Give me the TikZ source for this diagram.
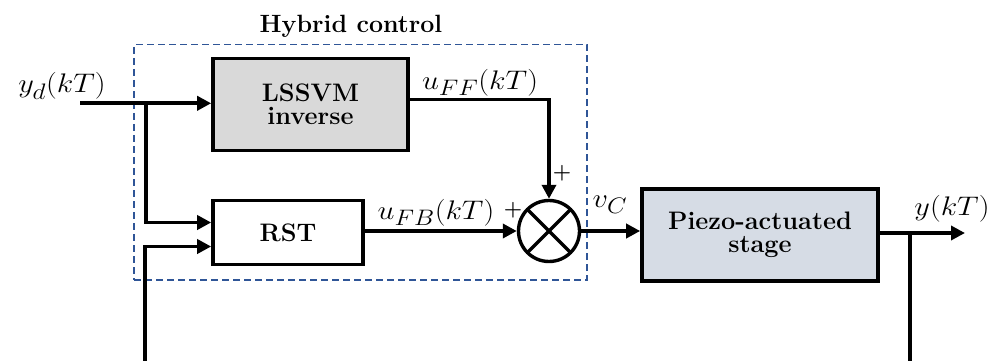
\documentclass[tikz,border=0pt]{standalone}
\usepackage{fontspec}
\usepackage{graphicx}
\usetikzlibrary{arrows.meta,calc}
\definecolor{dblue}{HTML}{2F5597}
\definecolor{lgray}{HTML}{D9D9D9}
\definecolor{lblue}{HTML}{D6DCE5}
\newcommand{\mlab}[1]{\scalebox{1.22}[1.08]{$#1$}}
\begin{document}
\begin{tikzpicture}[x=1pt,y=-1pt,
  blk/.style={draw, line width=3.6pt, align=center, font=\bfseries\fontsize{25.3}{23}\selectfont, inner sep=0pt},
  wire/.style={line width=3.6pt},
  arr/.style={wire,-{Triangle[length=14pt,width=14pt]}},
  lbl/.style={font=\fontsize{24.88}{30}\selectfont, inner sep=0pt},
  plus/.style={font=\bfseries\fontsize{21}{21}\selectfont, inner sep=0pt},
  dashbox/.style={draw=dblue, line width=1.8pt, dash pattern=on 7pt off 4pt, inner sep=0pt}]
\useasboundingbox (0,0) rectangle (1002,361);
% hybrid control frame
\node[dashbox, minimum width=453pt, minimum height=235.5pt] (hyb) at (360.5,162.25) {};
\node[font=\bfseries\fontsize{25}{23}\selectfont, anchor=base] (title) at (351,33) {Hybrid control};
% blocks
\node[blk, fill=lgray, minimum width=195pt, minimum height=92pt] (lssvm) at (310.5,104.5) {LSSVM\\inverse};
\node[blk, minimum width=150pt, minimum height=64pt] (rst) at (288,232.5) {RST};
\node[draw, circle, line width=3.4pt, minimum size=61pt, inner sep=0pt] (sum) at (549,231) {};
\draw[line width=3.4pt] (sum.center) +(45:30.5) -- +(225:30.5);
\draw[line width=3.4pt] (sum.center) +(135:30.5) -- +(315:30.5);
\node[blk, fill=lblue, minimum width=236pt, minimum height=92pt] (pz) at (760,235) {Piezo-actuated\\stage};
% coordinates
\coordinate (yd) at (80,103.3);
\coordinate (br1) at (146,103.3);
\coordinate (fb1) at (145,361);
\coordinate (yout) at (965,233);
\coordinate (br2) at (910,233);
\coordinate (fb2) at (910,361);
% wires
\draw[arr] (yd) -- (yd -| lssvm.west);
\draw[arr] (br1) |- ($(rst.west)+(0,-10)$);
\draw[arr] (fb1) |- ($(rst.west)+(0,14)$);
\draw[arr] ($(lssvm.east)+(0,-5)$) -| (sum.north);
\draw[arr] (rst.east |- sum.west) -- (sum.west);
\draw[arr] (sum.east) -- (sum.east -| pz.west);
\draw[arr] (pz.east |- yout) -- (yout);
\draw[wire] (br2) -- (fb2);
% labels
\node[lbl] (ydl) at (62,86) {\mlab{y_d(kT)}};
\node[lbl] (uff) at (480,83) {\mlab{u_{FF}(kT)}};
\node[lbl] (ufb) at (436,213) {\mlab{u_{FB}(kT)}};
\node[lbl] (vc) at (610,205) {\mlab{v_C}};
\node[lbl] (yl) at (952,209) {\mlab{y(kT)}};
\node[plus] (p1) at (562,173) {+};
\node[plus] (p2) at (513,210) {+};
\end{tikzpicture}
\end{document}
